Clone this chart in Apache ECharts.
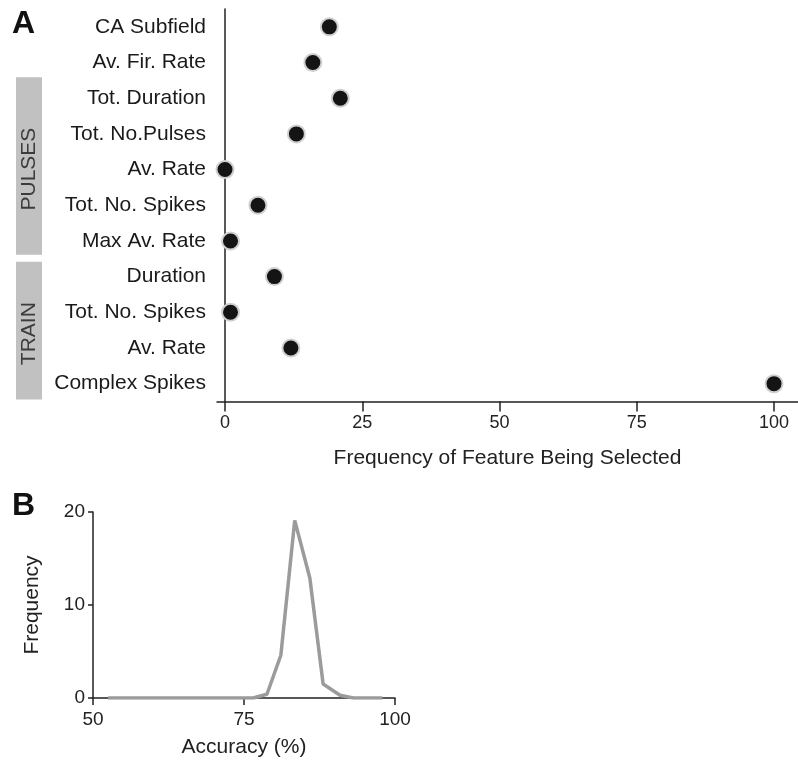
<!DOCTYPE html>
<html><head><meta charset="utf-8">
<script src="https://cdn.jsdelivr.net/npm/echarts@6/dist/echarts.min.js"></script>
<style>html,body{margin:0;padding:0;background:#fff}#c{width:798px;height:766px}</style>
</head><body><div id="c"></div>
<script>
// Panel A data
const featureLabels = ['CA Subfield','Av. Fir. Rate','Tot. Duration','Tot. No.Pulses','Av. Rate','Tot. No. Spikes','Max Av. Rate','Duration','Tot. No. Spikes','Av. Rate','Complex Spikes'];
const selectionFreq = [19, 16, 21, 13, 0, 6, 1, 9, 1, 12, 100];
const ticksA = [0, 25, 50, 75, 100];
const groupNames = ['PULSES', 'TRAIN'];
const groupStart = [2, 7];
const groupEnd = [6, 10];
// Panel B data
const accuracy = [52.5, 76.5, 78.8, 81.1, 83.4, 85.9, 88.1, 90.9, 93.1, 97.9];
const accFreq = [0, 0, 0.4, 4.6, 19.1, 12.9, 1.5, 0.3, 0, 0];

const FONT = '"Liberation Sans", Arial, sans-serif';
const AX = {color: '#222', width: 1.5};
const cats = featureLabels.map((f, i) => i + '|' + f);

const chart = echarts.init(document.getElementById('c'), null, {renderer: 'canvas'});
const option = {
  animation: false,
  textStyle: {fontFamily: FONT},
  grid: [
    {left: 217, top: 9, width: 581, height: 392.5},
    {left: 93, top: 512, width: 302, height: 186}
  ],
  xAxis: [
    {type: 'value', gridIndex: 0, min: -1.46, max: 104.37,
     axisLine: {show: true, onZero: false, lineStyle: AX},
     axisTick: {show: true, customValues: ticksA, length: 10, lineStyle: AX},
     axisLabel: {customValues: ticksA, fontSize: 18, color: '#222', margin: 13, fontFamily: FONT},
     splitLine: {show: false},
     name: 'Frequency of Feature Being Selected', nameLocation: 'middle', nameGap: 46,
     nameTextStyle: {fontSize: 21, color: '#222', fontFamily: FONT}},
    {type: 'value', gridIndex: 1, min: 50, max: 100, interval: 25,
     axisLine: {show: true, onZero: false, lineStyle: AX},
     axisTick: {show: true, length: 7, lineStyle: AX},
     axisLabel: {fontSize: 19, color: '#222', margin: 12, fontFamily: FONT},
     splitLine: {show: false},
     name: 'Accuracy (%)', nameLocation: 'middle', nameGap: 39,
     nameTextStyle: {fontSize: 21, color: '#222', fontFamily: FONT}}
  ],
  yAxis: [
    {type: 'category', gridIndex: 0, inverse: true, data: cats,
     axisLine: {show: true, onZero: true, lineStyle: AX},
     axisTick: {show: false},
     axisLabel: {fontSize: 21, color: '#1a1a1a', margin: 11, fontFamily: FONT,
                 formatter: v => v.split('|')[1]},
     splitLine: {show: false}},
    {type: 'value', gridIndex: 1, min: 0, max: 20, interval: 10,
     axisLine: {show: true, onZero: false, lineStyle: AX},
     axisTick: {show: true, length: 5, lineStyle: AX},
     axisLabel: {fontSize: 19, color: '#222', margin: 8, fontFamily: FONT},
     splitLine: {show: false},
     name: 'Frequency', nameLocation: 'middle', nameGap: 50, nameRotate: 90,
     nameTextStyle: {fontSize: 21, color: '#222', fontFamily: FONT}}
  ],
  series: [
    {type: 'scatter', xAxisIndex: 0, yAxisIndex: 0,
     data: selectionFreq.map((v, i) => [v, cats[i]]),
     symbolSize: 17,
     itemStyle: {color: '#141414', borderColor: '#cfcfcf', borderWidth: 2, opacity: 1}},
    {type: 'line', xAxisIndex: 1, yAxisIndex: 1,
     data: accuracy.map((a, i) => [a, accFreq[i]]),
     showSymbol: false, symbol: 'none',
     lineStyle: {color: '#9b9b9b', width: 3.5}}
  ]
};
chart.setOption(option);

// decorations: panel letters, group bands computed from the category axis
const yPix = i => chart.convertToPixel({yAxisIndex: 0}, cats[i]);
const step = yPix(1) - yPix(0);
const topOff = [-3, 3], botOff = [-4, -2];
const graphics = [
  {type: 'text', left: 12, top: 8, style: {text: 'A', font: 'bold 32px ' + FONT, fill: '#111'}},
  {type: 'text', left: 12, top: 490, style: {text: 'B', font: 'bold 32px ' + FONT, fill: '#111'}}
];
groupNames.forEach((g, k) => {
  const y0 = yPix(groupStart[k]) - step / 2 + topOff[k];
  const y1 = yPix(groupEnd[k]) + step / 2 + botOff[k];
  graphics.push({type: 'rect', shape: {x: 16, y: y0, width: 26, height: y1 - y0},
                 style: {fill: '#c1c1c1'}, z: 0});
  graphics.push({type: 'text', x: 29.5, y: (y0 + y1) / 2 + 3, rotation: Math.PI / 2,
                 style: {text: g, font: '21px ' + FONT, fill: '#3c3c3c',
                         textAlign: 'center', textVerticalAlign: 'middle'}, z: 1});
});
chart.setOption({graphic: graphics});
</script>
</body></html>
